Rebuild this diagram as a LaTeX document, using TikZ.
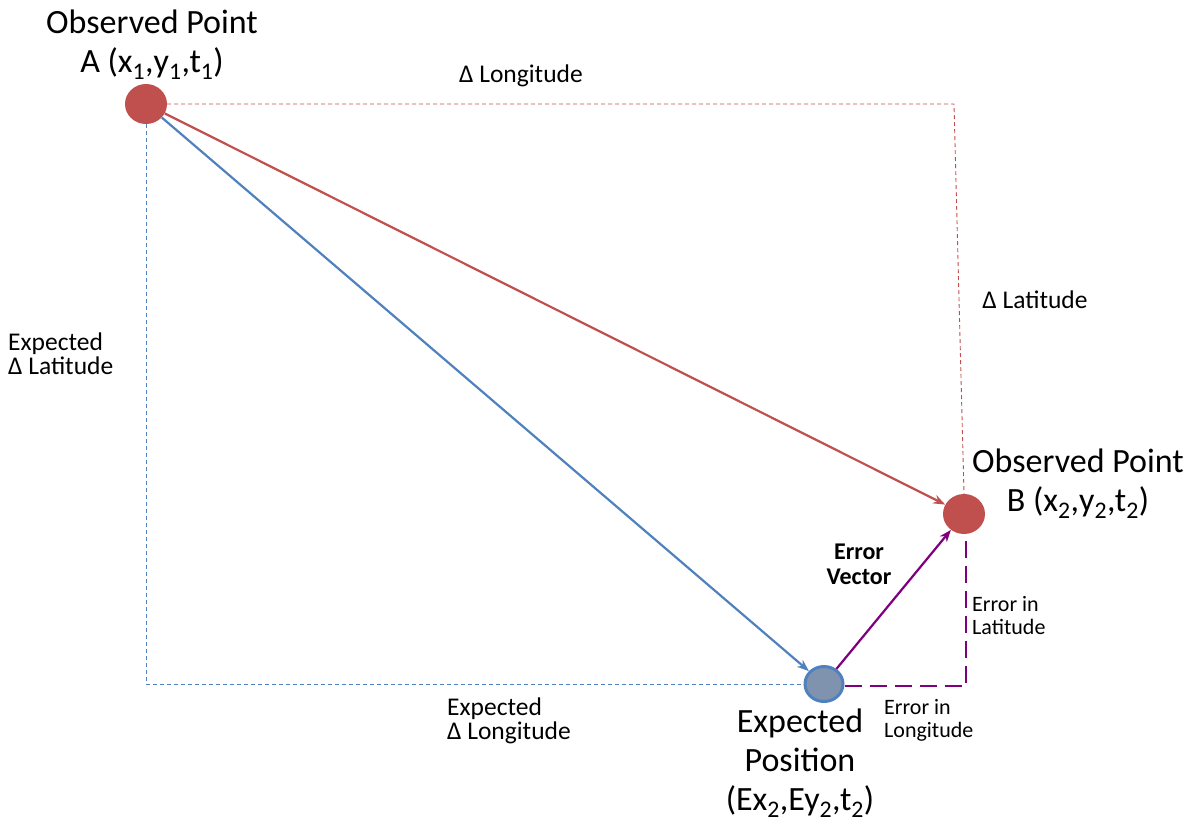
\documentclass[tikz,border=0pt]{standalone}
\usepackage{fontspec}
\setmainfont{Carlito}
\usetikzlibrary{arrows.meta,shapes.geometric}
\definecolor{ored}{HTML}{C0504D}
\definecolor{oblue}{HTML}{4F81BD}
\definecolor{efill}{HTML}{7F93AF}
\definecolor{opurple}{HTML}{7F007F}
\newcommand\sbx[1]{\textsubscript{#1}}
\begin{document}
\begin{tikzpicture}[x=1pt,y=-1pt,
  redpt/.style={ellipse,fill=ored,minimum width=42pt,minimum height=40pt,inner sep=0pt},
  exppt/.style={ellipse,fill=efill,draw=oblue,line width=3pt,minimum width=38pt,minimum height=35pt,inner sep=0pt},
  big/.style={font=\fontsize{34}{39}\selectfont,align=center,inner sep=0pt},
  small/.style={font=\fontsize{25.5}{24}\selectfont,inner sep=0pt},
  tiny/.style={font=\fontsize{22}{23}\selectfont,inner sep=0pt,align=left,anchor=west},
  arr/.style={line width=2.2pt,-{Stealth[length=12pt,width=9pt]}}
]
\useasboundingbox (0,0) rectangle (1200,823);
\node[redpt] (A) at (146,104) {};
\node[redpt] (B) at (964,514) {};
\node[exppt] (E) at (824,684) {};
\coordinate (rc) at (954,104);
\coordinate (bc) at (146,684);
\coordinate (pc) at (966,686);
% dashed guides
\draw[ored,line width=0.9pt,dash pattern=on 4pt off 3pt] (A.east) -- (rc) -- (B.north);
\draw[oblue,line width=0.9pt,dash pattern=on 4pt off 3pt] (A.south) -- (bc) -- (E.west);
\draw[opurple,line width=2.5pt,dash pattern=on 17pt off 8pt] (E.east|-pc) -- (pc) -- (B.south-|pc);
% arrows
\draw[arr,ored] (A) -- (B);
\draw[arr,oblue] (A) -- (E);
\draw[arr,opurple] (E) -- (B);
% labels
\node[big] (lA) at (152,45) {Observed Point\\A (x\sbx{1},y\sbx{1},t\sbx{1})};
\node[big] (lB) at (1078,484) {Observed Point\\B (x\sbx{2},y\sbx{2},t\sbx{2})};
\node[big] (lE) at (800,763) {Expected\\Position\\(Ex\sbx{2},Ey\sbx{2},t\sbx{2})};
\node[small] (dlon) at (521,76) {Δ Longitude};
\node[small] (dlat) at (1035,300) {Δ Latitude};
\node[small,align=left,anchor=west] (edlat) at (8,354) {Expected\\Δ Latitude};
\node[small,align=left,anchor=west] (edlon) at (447,721) {Expected\\Δ Longitude};
\node[tiny] (elat) at (972,616) {Error in\\Latitude};
\node[tiny] (elon) at (884,720) {Error in\\Longitude};
\node[inner sep=0pt,align=center,font=\fontsize{24}{25}\selectfont\bfseries] (ev) at (859,564) {Error\\Vector};
\end{tikzpicture}
\end{document}
